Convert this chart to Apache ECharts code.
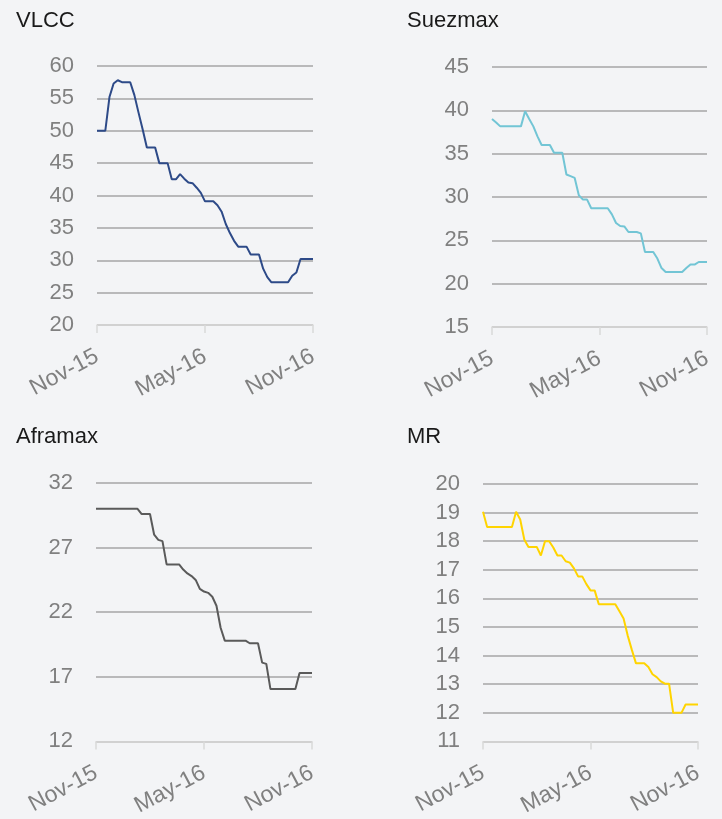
<!DOCTYPE html>
<html>
<head>
<meta charset="utf-8">
<script src="https://cdn.jsdelivr.net/npm/echarts@6/dist/echarts.min.js"></script>
<style>
  html, body { margin: 0; padding: 0; background: #f3f4f6; }
  #chart { width: 722px; height: 819px; }
</style>
</head>
<body>
<div id="chart"></div>
<script>
// weekly observations, Nov-15 .. Nov-16
const weeks = [
  '2015-11-06', '2015-11-13', '2015-11-20', '2015-11-27', '2015-12-04', '2015-12-11', '2015-12-18', '2015-12-25',
  '2016-01-01', '2016-01-08', '2016-01-15', '2016-01-22', '2016-01-29', '2016-02-05', '2016-02-12', '2016-02-19',
  '2016-02-26', '2016-03-04', '2016-03-11', '2016-03-18', '2016-03-25', '2016-04-01', '2016-04-08', '2016-04-15',
  '2016-04-22', '2016-04-29', '2016-05-06', '2016-05-13', '2016-05-20', '2016-05-27', '2016-06-03', '2016-06-10',
  '2016-06-17', '2016-06-24', '2016-07-01', '2016-07-08', '2016-07-15', '2016-07-22', '2016-07-29', '2016-08-05',
  '2016-08-12', '2016-08-19', '2016-08-26', '2016-09-02', '2016-09-09', '2016-09-16', '2016-09-23', '2016-09-30',
  '2016-10-07', '2016-10-14', '2016-10-21', '2016-10-28', '2016-11-04'
]
const vlcc = [
  50, 50, 50, 55.2, 57.3, 57.8, 57.5, 57.5, 57.5, 55.5, 52.8, 50.2, 47.4, 47.4, 47.4, 45,
  45, 45, 42.5, 42.5, 43.3, 42.6, 42, 41.9, 41.2, 40.4, 39.1, 39.1, 39.1, 38.5, 37.5, 35.6,
  34.2, 33, 32.1, 32.1, 32.1, 30.9, 30.9, 30.9, 28.7, 27.4, 26.6, 26.6, 26.6, 26.6, 26.6, 27.6,
  28.1, 30.2, 30.2, 30.2, 30.2
]
const suezmax = [
  39, 38.6, 38.15, 38.15, 38.15, 38.15, 38.15, 38.15, 39.9, 39, 38.15, 37, 36, 36, 36, 35.1,
  35.1, 35.1, 32.6, 32.4, 32.2, 30.2, 29.7, 29.7, 28.7, 28.7, 28.7, 28.7, 28.7, 28, 27, 26.65,
  26.6, 25.96, 25.96, 25.96, 25.8, 23.65, 23.65, 23.65, 22.9, 21.8, 21.35, 21.35, 21.35, 21.35, 21.35, 21.8,
  22.2, 22.2, 22.5, 22.5, 22.5
]
const aframax = [
  30, 30, 30, 30, 30, 30, 30, 30, 30, 30, 30, 29.6, 29.6, 29.6, 28, 27.6,
  27.5, 25.7, 25.7, 25.7, 25.7, 25.3, 25, 24.8, 24.5, 23.8, 23.6, 23.5, 23.2, 22.5, 20.8, 19.8,
  19.8, 19.8, 19.8, 19.8, 19.8, 19.6, 19.6, 19.6, 18.1, 18, 16.05, 16.05, 16.05, 16.05, 16.05, 16.05,
  16.05, 17.3, 17.3, 17.3, 17.3
]
const mr = [
  19.03, 18.5, 18.5, 18.5, 18.5, 18.5, 18.5, 18.5, 19.03, 18.76, 18.05, 17.8, 17.8, 17.8, 17.5, 18,
  18, 17.78, 17.5, 17.5, 17.3, 17.25, 17.05, 16.77, 16.77, 16.5, 16.28, 16.28, 15.8, 15.8, 15.8, 15.8,
  15.8, 15.55, 15.3, 14.7, 14.2, 13.73, 13.73, 13.73, 13.6, 13.35, 13.25, 13.1, 13.02, 13.02, 12, 12,
  12, 12.29, 12.29, 12.29, 12.29
]

const panels = [
  { name: 'VLCC', data: vlcc, color: '#2d4a88', min: 20, max: 60, step: 5,
    grid: { left: 97, top: 66, width: 216, height: 259 }, title: [11, 5] },
  { name: 'Suezmax', data: suezmax, color: '#72c5d5', min: 15, max: 45, step: 5,
    grid: { left: 492, top: 67, width: 215, height: 260 }, title: [402, 5] },
  { name: 'Aframax', data: aframax, color: '#5a5a5a', min: 12, max: 32, step: 5,
    grid: { left: 96, top: 483, width: 216, height: 260 }, title: [11, 421] },
  { name: 'MR', data: mr, color: '#ffd400', min: 11, max: 20, step: 1,
    grid: { left: 483, top: 484, width: 215, height: 260 }, title: [402, 421] }
]

const months = ['Jan', 'Feb', 'Mar', 'Apr', 'May', 'Jun', 'Jul', 'Aug', 'Sep', 'Oct', 'Nov', 'Dec']
const fmtDate = (s) => months[+s.slice(5, 7) - 1] + '-' + s.slice(2, 4)
const showTick = (i) => i % 26 === 0

const chart = echarts.init(document.getElementById('chart'))
const option = {
  backgroundColor: '#f3f4f6',
  animation: false,
  title: panels.map(p => ({
    text: p.name, left: p.title[0], top: p.title[1],
    textStyle: { fontFamily: 'Liberation Sans', fontSize: 22, fontWeight: 'normal', color: '#1a1a1a' }
  })),
  grid: panels.map(p => p.grid),
  xAxis: panels.map((p, i) => ({
    type: 'category', gridIndex: i, data: weeks, boundaryGap: false,
    axisLine: { lineStyle: { color: '#d9d9d9', width: 1.5 } },
    axisTick: { interval: showTick, length: 8, lineStyle: { color: '#d9d9d9', width: 1.5 } },
    axisLabel: {
      interval: showTick, formatter: fmtDate, rotate: 28, margin: 30,
      color: '#808080', fontSize: 23, fontFamily: 'Liberation Sans'
    },
    splitLine: { show: false }
  })),
  yAxis: panels.map((p, i) => ({
    type: 'value', gridIndex: i, min: p.min, max: p.max, interval: p.step,
    axisLine: { show: false }, axisTick: { show: false },
    axisLabel: { color: '#808080', fontSize: 22, fontFamily: 'Liberation Sans', margin: 23 },
    splitLine: { lineStyle: { color: '#a6a6a6', width: 1.5 } }
  })),
  series: panels.map((p, i) => ({
    type: 'line', name: p.name, xAxisIndex: i, yAxisIndex: i, data: p.data,
    showSymbol: false, lineStyle: { color: p.color, width: 2 }, itemStyle: { color: p.color }
  }))
}
chart.setOption(option)
</script>
</body>
</html>
